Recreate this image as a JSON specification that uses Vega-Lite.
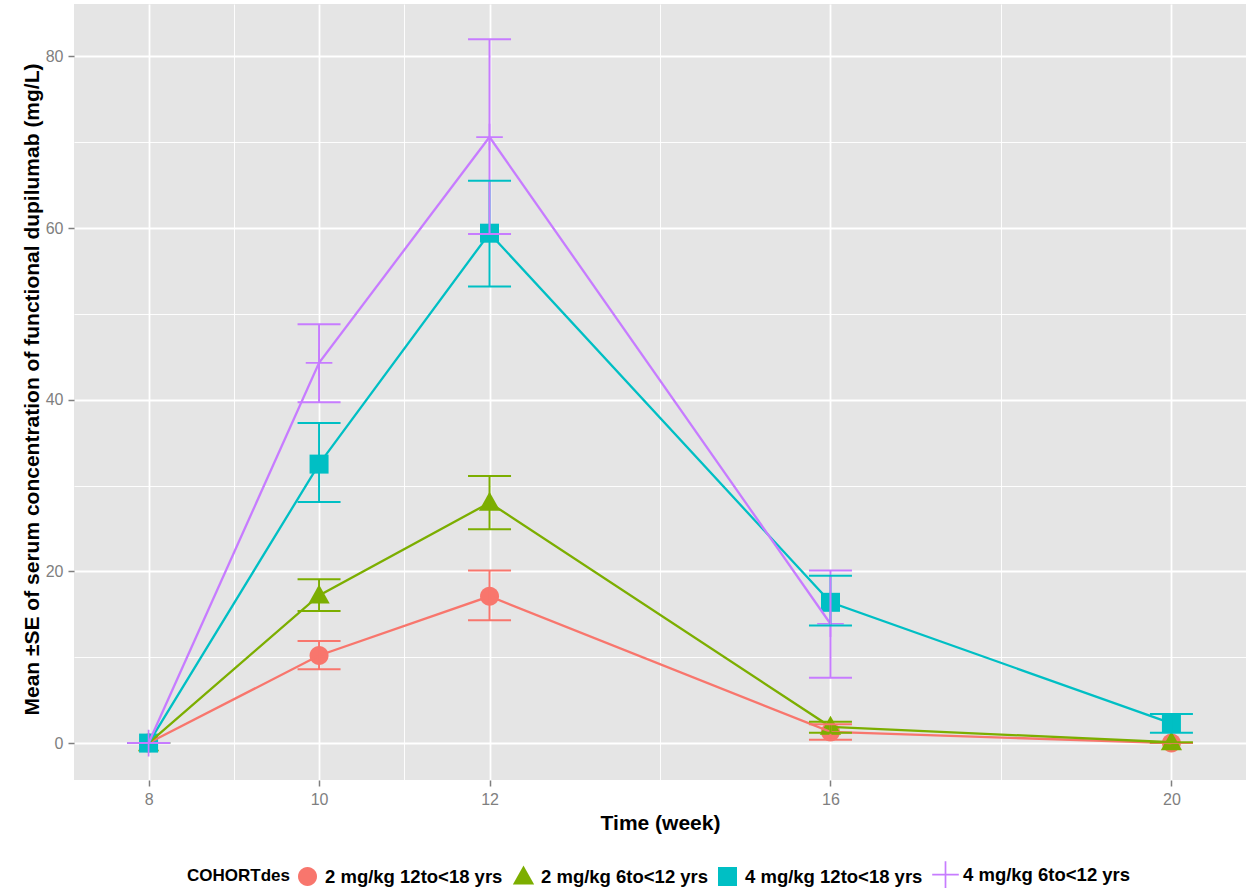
{
  "$schema": "https://vega.github.io/schema/vega-lite/v6.json",
  "autosize": {"type": "none"},
  "padding": {"left": 74, "top": 4, "right": 13, "bottom": 112},
  "width": 1172,
  "height": 776,
  "background": "white",
  "config": {
    "font": "Liberation Sans",
    "view": {"fill": "#E5E5E5", "stroke": null},
    "axis": {
      "domain": false,
      "gridColor": "white",
      "tickColor": "#7F7F7F",
      "tickSize": 6,
      "tickWidth": 1.5,
      "labelColor": "#7F7F7F",
      "labelFont": "Liberation Sans",
      "labelFontSize": 16,
      "titleFont": "Liberation Sans",
      "titleFontSize": 21,
      "titleFontWeight": "bold",
      "titleColor": "black"
    },
    "legend": {
      "orient": "none",
      "direction": "horizontal",
      "legendX": 113,
      "legendY": 861,
      "titleOrient": "left",
      "titleFont": "Liberation Sans",
      "titleFontSize": 17,
      "titleFontWeight": "bold",
      "titleColor": "black",
      "titleBaseline": "middle",
      "titlePadding": 8,
      "labelFont": "Liberation Sans",
      "labelFontSize": 18.5,
      "labelFontWeight": "bold",
      "labelColor": "black",
      "labelLimit": 0,
      "labelOffset": 8,
      "columnPadding": 9,
      "symbolSize": 361,
      "symbolStrokeWidth": 0
    }
  },
  "data": {
    "values": [
      {"cohort": "2 mg/kg 12to<18 yrs", "week": 8, "mean": 0, "lo": 0, "hi": 0},
      {"cohort": "2 mg/kg 12to<18 yrs", "week": 10, "mean": 10.2, "lo": 8.6, "hi": 11.9},
      {"cohort": "2 mg/kg 12to<18 yrs", "week": 12, "mean": 17.1, "lo": 14.3, "hi": 20.1},
      {"cohort": "2 mg/kg 12to<18 yrs", "week": 16, "mean": 1.3, "lo": 0.4, "hi": 2.2},
      {"cohort": "2 mg/kg 12to<18 yrs", "week": 20, "mean": 0, "lo": 0, "hi": 0},
      {"cohort": "2 mg/kg 6to<12 yrs", "week": 8, "mean": 0, "lo": 0, "hi": 0},
      {"cohort": "2 mg/kg 6to<12 yrs", "week": 10, "mean": 17.2, "lo": 15.4, "hi": 19.1},
      {"cohort": "2 mg/kg 6to<12 yrs", "week": 12, "mean": 28.0, "lo": 24.9, "hi": 31.1},
      {"cohort": "2 mg/kg 6to<12 yrs", "week": 16, "mean": 1.9, "lo": 1.2, "hi": 2.5},
      {"cohort": "2 mg/kg 6to<12 yrs", "week": 20, "mean": 0.1, "lo": 0, "hi": 0.1},
      {"cohort": "4 mg/kg 12to<18 yrs", "week": 8, "mean": 0, "lo": 0, "hi": 0},
      {"cohort": "4 mg/kg 12to<18 yrs", "week": 10, "mean": 32.5, "lo": 28.1, "hi": 37.3},
      {"cohort": "4 mg/kg 12to<18 yrs", "week": 12, "mean": 59.4, "lo": 53.2, "hi": 65.5},
      {"cohort": "4 mg/kg 12to<18 yrs", "week": 16, "mean": 16.4, "lo": 13.7, "hi": 19.5},
      {"cohort": "4 mg/kg 12to<18 yrs", "week": 20, "mean": 2.3, "lo": 1.2, "hi": 3.4},
      {"cohort": "4 mg/kg 6to<12 yrs", "week": 8, "mean": 0, "lo": 0, "hi": 0},
      {"cohort": "4 mg/kg 6to<12 yrs", "week": 10, "mean": 44.3, "lo": 39.7, "hi": 48.8},
      {"cohort": "4 mg/kg 6to<12 yrs", "week": 12, "mean": 70.6, "lo": 59.3, "hi": 82.0},
      {"cohort": "4 mg/kg 6to<12 yrs", "week": 16, "mean": 13.9, "lo": 7.6, "hi": 20.1}
    ]
  },
  "encoding": {
    "x": {
      "field": "week", "type": "quantitative",
      "scale": {"domain": [7.125, 20.875], "nice": false, "zero": false},
      "axis": {
        "title": "Time (week)",
        "values": [8, 9, 10, 11, 12, 14, 16, 18, 20],
        "labelExpr": "(datum.value % 2 == 1 || datum.value == 14 || datum.value == 18) ? '' : datum.label",
        "gridWidth": {"condition": {"test": "datum.value % 2 == 1 || datum.value == 14 || datum.value == 18", "value": 0.9}, "value": 1.8},
        "tickOpacity": {"condition": {"test": "datum.value % 2 == 1 || datum.value == 14 || datum.value == 18", "value": 0}, "value": 1},
        "labelPadding": 5,
        "titlePadding": 5
      }
    },
    "color": {
      "field": "cohort", "type": "nominal",
      "scale": {
        "domain": ["2 mg/kg 12to<18 yrs", "2 mg/kg 6to<12 yrs", "4 mg/kg 12to<18 yrs", "4 mg/kg 6to<12 yrs"],
        "range": ["#F8766D", "#7CAE00", "#00BFC4", "#C77CFF"]
      },
      "legend": {"title": "COHORTdes"}
    }
  },
  "layer": [
    {
      "mark": {"type": "point", "filled": true, "opacity": 1, "size": 361},
      "encoding": {
        "y": {
          "field": "mean", "type": "quantitative",
          "scale": {"domain": [-4.3, 86.1], "nice": false, "zero": false},
          "axis": {
            "title": "Mean ±SE of serum concentration of functional dupilumab (mg/L)",
            "values": [0, 10, 20, 30, 40, 50, 60, 70, 80],
            "labelExpr": "datum.value % 20 != 0 ? '' : datum.label",
            "gridWidth": {"condition": {"test": "datum.value % 20 != 0", "value": 0.9}, "value": 1.8},
            "tickOpacity": {"condition": {"test": "datum.value % 20 != 0", "value": 0}, "value": 1},
            "labelPadding": 5,
            "titleX": -42,
            "titleY": 385,
            "titleAngle": 270,
            "titleAlign": "center",
            "titleBaseline": "middle"
          }
        },
        "shape": {
          "field": "cohort", "type": "nominal",
          "scale": {
            "domain": ["2 mg/kg 12to<18 yrs", "2 mg/kg 6to<12 yrs", "4 mg/kg 12to<18 yrs", "4 mg/kg 6to<12 yrs"],
            "range": [
              "M0,-1C0.55,-1 1,-0.55 1,0C1,0.55 0.55,1 0,1C-0.55,1 -1,0.55 -1,0C-1,-0.55 -0.55,-1 0,-1Z",
              "M0,-1.15L1.12,0.85H-1.12Z",
              "M-1,-1H1V1H-1Z",
              "M-1.4,-0.09H-0.09V-1.4H0.09V-0.09H1.4V0.09H0.09V1.4H-0.09V0.09H-1.4Z"
            ]
          },
          "legend": {"title": "COHORTdes"}
        }
      }
    },
    {
      "mark": {"type": "line", "strokeWidth": 2.3},
      "encoding": {"y": {"field": "mean", "type": "quantitative"}}
    },
    {
      "mark": {"type": "rule", "strokeWidth": 2},
      "encoding": {
        "y": {"field": "lo", "type": "quantitative"},
        "y2": {"field": "hi"}
      }
    },
    {
      "mark": {"type": "tick", "orient": "horizontal", "size": 43, "thickness": 2, "opacity": 1},
      "encoding": {"y": {"field": "lo", "type": "quantitative"}}
    },
    {
      "mark": {"type": "tick", "orient": "horizontal", "size": 43, "thickness": 2, "opacity": 1},
      "encoding": {"y": {"field": "hi", "type": "quantitative"}}
    }
  ]
}
